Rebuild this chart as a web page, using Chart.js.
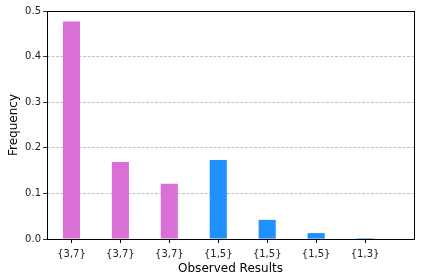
<!DOCTYPE html>
<html>
<head>
<meta charset="utf-8">
<script src="https://cdn.jsdelivr.net/npm/chart.js@4"></script>
<style>
  html, body { margin: 0; padding: 0; background: #fff; }
  #wrap { width: 424px; height: 280px; }
</style>
</head>
<body>
<div id="wrap"><canvas id="chart" width="424" height="280"></canvas></div>
<script>
const labels = ['{3,7}', '{3,7}', '{3,7}', '{1,5}', '{1,5}', '{1,5}', '{1,3}'];
const frequencies = [0.477, 0.169, 0.121, 0.173, 0.042, 0.013, 0.002];
const barColors = ['#DA70D6', '#DA70D6', '#DA70D6', '#1E90FF', '#1E90FF', '#1E90FF', '#1E90FF'];
const yTicks = [0, 0.1, 0.2, 0.3, 0.4, 0.5];

const font = 'DejaVu Sans';

// box round the plot area, like matplotlib spines
const frameBox = {
  id: 'frameBox',
  afterDraw(chart) {
    const { ctx, chartArea: a } = chart;
    ctx.save();
    ctx.strokeStyle = '#000';
    ctx.lineWidth = 1;
    ctx.strokeRect(Math.round(a.left) + 0.5, Math.round(a.top) + 0.5,
      Math.round(a.right - a.left), Math.round(a.bottom - a.top));
    ctx.restore();
  }
};

new Chart(document.getElementById('chart'), {
  type: 'bar',
  data: {
    datasets: [{
      data: frequencies.map((v, i) => ({ x: i, y: v })),
      backgroundColor: barColors,
      barPercentage: 0.35,
      categoryPercentage: 1
    }]
  },
  options: {
    responsive: false,
    animation: false,
    layout: { padding: { top: 11, right: 10, left: 0, bottom: 0 } },
    plugins: { legend: { display: false }, tooltip: { enabled: false } },
    scales: {
      x: {
        type: 'linear',
        min: -0.5,
        max: 7,
        offset: false,
        afterBuildTicks: s => { s.ticks = labels.map((_, i) => ({ value: i })); },
        afterFit: s => { s.height = 41; },
        grid: { display: true, offset: false, drawOnChartArea: false, tickLength: 4, tickColor: '#000' },
        border: { display: false },
        ticks: {
          callback: v => labels[v],
          color: '#222',
          font: { family: font, size: 10 },
          padding: 5,
          maxRotation: 0,
          autoSkip: false
        },
        title: {
          display: true,
          text: 'Observed Results',
          color: '#000',
          font: { family: font, size: 12 },
          padding: { top: 0, bottom: 4 }
        }
      },
      y: {
        min: 0,
        max: 0.5,
        afterBuildTicks: s => { s.ticks = yTicks.map(v => ({ value: v })); },
        afterFit: s => { s.width = 47; },
        grid: {
          color: ctx => (ctx.tick && (ctx.tick.value === 0 || ctx.tick.value === 0.5)) ? 'rgba(0,0,0,0)' : '#b0b0b0',
          lineWidth: 0.8,
          tickBorderDash: [],
          tickLength: 4,
          tickColor: '#000'
        },
        border: { display: false, dash: [3, 1.5] },
        ticks: {
          callback: v => v.toFixed(1),
          color: '#222',
          font: { family: font, size: 10 },
          padding: 2
        },
        title: {
          display: true,
          text: 'Frequency',
          color: '#000',
          font: { family: font, size: 12 },
          padding: { top: 7, bottom: 2 }
        }
      }
    }
  },
  plugins: [frameBox]
});
</script>
</body>
</html>
